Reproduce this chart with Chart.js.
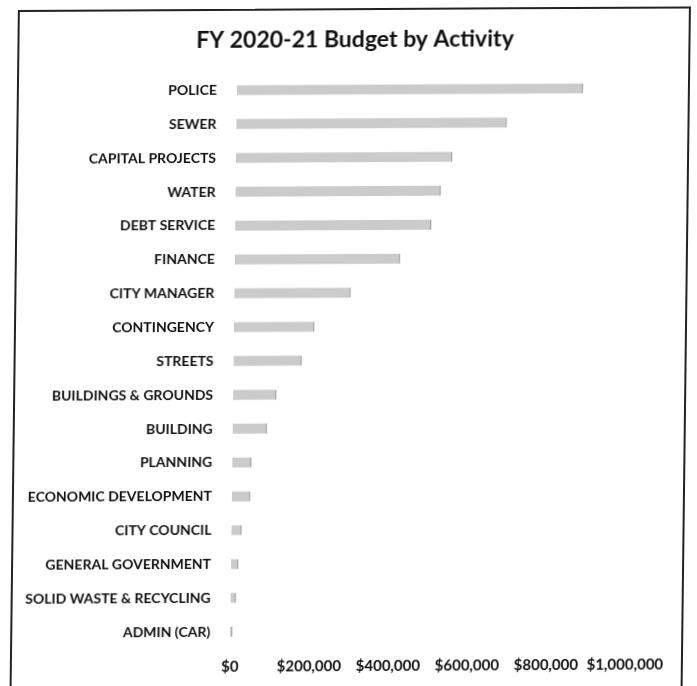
<!DOCTYPE html>
<html>
<head>
<meta charset="utf-8">
<title>FY 2020-21 Budget by Activity</title>
<script src="https://cdn.jsdelivr.net/npm/chart.js@4/dist/chart.umd.min.js"></script>
<style>
    html, body { margin: 0; padding: 0; background: #ffffff; overflow: hidden; }
    /* la hoja escaneada está algo torcida */
    #wrap {
        position: relative; width: 697px; height: 686px;
        transform-origin: 0 0;
        transform: skewX(-0.7deg) skewY(-0.3deg);
    }
    #frame {
        position: absolute; left: 18px; top: 10px; width: 673px; height: 720px;
        border: 2px solid #222; box-sizing: border-box;
    }
    #budgetChart { position: absolute; left: 0; top: 0; }
</style>
</head>
<body>
<div id="wrap">
    <div id="frame"></div>
    <canvas id="budgetChart" width="697" height="686"></canvas>
</div>
<script>
// Actividades y presupuesto (USD)
const activities = [
    'POLICE', 'SEWER', 'CAPITAL PROJECTS', 'WATER', 'DEBT SERVICE', 'FINANCE',
    'CITY MANAGER', 'CONTINGENCY', 'STREETS', 'BUILDINGS & GROUNDS', 'BUILDING',
    'PLANNING', 'ECONOMIC DEVELOPMENT', 'CITY COUNCIL', 'GENERAL GOVERNMENT',
    'SOLID WASTE & RECYCLING', 'ADMIN (CAR)'
];
const budget = [
    876000, 684000, 547000, 519000, 496000, 418000,
    294000, 203000, 172000, 109000, 86000,
    48000, 46000, 25000, 18000,
    13000, 5000
];
const xTicks = [0, 200000, 400000, 600000, 800000, 1000000];

let budgetChart;

function money(v) {
    return '$' + v.toLocaleString('en-US');
}

// El título se centra sobre el marco, no sobre el área del gráfico
const titleShift = {
    id: 'titleShift',
    afterLayout(chart) {
        if (chart.titleBlock) {
            chart.titleBlock.left = 14;
            chart.titleBlock.right = 697;
        }
    }
};

function setupChart() {
    budgetChart = new Chart(document.getElementById('budgetChart').getContext('2d'), {
        type: 'bar',
        data: {
            labels: activities,
            datasets: [{
                data: budget,
                backgroundColor: '#cbcbcb',
                borderColor: '#8f8f8f',
                borderWidth: { right: 1, left: 0, top: 0, bottom: 0 },
                borderSkipped: false,
                barThickness: 10
            }]
        },
        options: {
            indexAxis: 'y',
            responsive: false,
            animation: false,
            layout: { padding: { left: 0, right: 64, top: 0, bottom: 0 } },
            plugins: {
                legend: { display: false },
                tooltip: { enabled: false },
                title: {
                    display: true,
                    text: 'FY 2020-21 Budget by Activity',
                    color: '#111',
                    font: { family: 'Lato', size: 23, weight: 'bold' },
                    padding: { top: 28, bottom: 19 }
                }
            },
            scales: {
                x: {
                    min: 0,
                    max: 1000000,
                    grid: { display: false },
                    border: { display: false },
                    afterBuildTicks: scale => { scale.ticks = xTicks.map(v => ({ value: v })); },
                    afterFit: scale => { scale.height = 36; },
                    ticks: {
                        color: '#111',
                        font: { family: 'Lato', size: 15, weight: 'bold' },
                        padding: 1,
                        maxRotation: 0,
                        autoSkip: false,
                        callback: v => money(v)
                    }
                },
                y: {
                    grid: { display: false },
                    border: { display: false },
                    afterFit: scale => { scale.width = 238; },
                    ticks: {
                        color: '#111',
                        font: { family: 'Lato', size: 14, weight: 'bold' },
                        padding: 12
                    }
                }
            }
        },
        plugins: [titleShift]
    });
}

window.onload = setupChart;
</script>
</body>
</html>
